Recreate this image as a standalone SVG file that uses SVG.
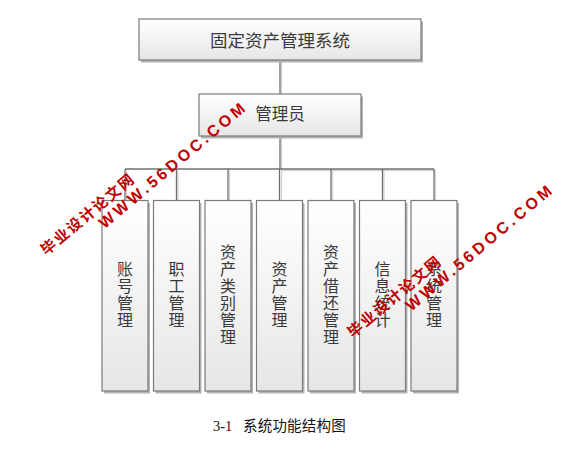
<svg xmlns="http://www.w3.org/2000/svg" width="584" height="454" viewBox="0 0 584 454">
<defs>
<linearGradient id="g" x1="0" y1="0" x2="0" y2="1">
<stop offset="0" stop-color="#ffffff"/>
<stop offset="1" stop-color="#e6e6e6"/>
</linearGradient>
</defs>
<style>
.box{fill:url(#g);stroke:#7a7a7a;stroke-width:1.2}
.sh{fill:#b4b4b4}
.t{font-family:"Noto Sans CJK SC","Noto Sans",sans-serif;fill:#3a3a3a;text-anchor:middle}
.v{font-size:16px;writing-mode:vertical-rl;letter-spacing:1px}
.ln{stroke:#707070;stroke-width:1.3;fill:none}
.lns{stroke:#d4d4d4;stroke-width:1.3;fill:none}
.wm{font-family:"Liberation Sans","Noto Sans CJK SC",sans-serif;font-weight:bold;fill:#c00000}
</style>
<rect width="584" height="454" fill="#ffffff"/>
<g id="connectors">
<path class="lns" d="M281.5 62V94M281.5 137V170.5H435.5M126.5 170.5V201M178 170.5V201M229.5 170.5V201M281.5 170.5V201M332.5 170.5V201M384 170.5V201M435.5 170.5V201"/>
<path class="ln" d="M280 61V94M280 136V169M125 169H434M125 169V200.5M176.5 169V200.5M228 169V200.5M279.5 169V200.5M331 169V200.5M382.5 169V200.5M434 169V200.5"/>
</g>
<g id="n-root">
<rect class="sh" x="141" y="21.5" width="282" height="41"/>
<rect class="box" x="139" y="19" width="282" height="41"/>
<text class="t" x="280" y="47" font-size="17.5">固定资产管理系统</text>
</g>
<g id="n-admin">
<rect class="sh" x="201" y="96.5" width="162" height="42"/>
<rect class="box" x="199" y="94" width="162" height="42"/>
<text class="t" x="280" y="120" font-size="16.5">管理员</text>
</g>
<g id="n1">
<rect class="sh" x="104" y="203" width="46" height="190.5"/>
<rect class="box" x="102" y="200.5" width="46" height="190.5"/>
<text class="t v" x="125" y="295">账号管理</text>
</g>
<g id="n2">
<rect class="sh" x="155.5" y="203" width="46" height="190.5"/>
<rect class="box" x="153.5" y="200.5" width="46" height="190.5"/>
<text class="t v" x="176.5" y="295">职工管理</text>
</g>
<g id="n3">
<rect class="sh" x="207" y="203" width="46" height="190.5"/>
<rect class="box" x="205" y="200.5" width="46" height="190.5"/>
<text class="t v" x="228" y="295">资产类别管理</text>
</g>
<g id="n4">
<rect class="sh" x="258.5" y="203" width="46" height="190.5"/>
<rect class="box" x="256.5" y="200.5" width="46" height="190.5"/>
<text class="t v" x="279.5" y="295">资产管理</text>
</g>
<g id="n5">
<rect class="sh" x="310" y="203" width="46" height="190.5"/>
<rect class="box" x="308" y="200.5" width="46" height="190.5"/>
<text class="t v" x="331" y="295">资产借还管理</text>
</g>
<g id="n6">
<rect class="sh" x="361.5" y="203" width="46" height="190.5"/>
<rect class="box" x="359.5" y="200.5" width="46" height="190.5"/>
<text class="t v" x="382.5" y="295">信息统计</text>
</g>
<g id="n7">
<rect class="sh" x="413" y="203" width="46" height="190.5"/>
<rect class="box" x="411" y="200.5" width="46" height="190.5"/>
<text class="t v" x="434" y="295">系统管理</text>
</g>
<g id="caption">
<text x="213" y="431" font-family="Liberation Serif,serif" font-size="14.5" fill="#111">3-1</text>
<text x="243" y="431" font-family="Noto Sans CJK SC,sans-serif" font-size="14.5" letter-spacing="0.2" fill="#111">系统功能结构图</text>
</g>
<g id="watermark">
<text class="wm" font-size="15" letter-spacing="1.8" transform="translate(46.3 255.9) rotate(-40)">毕业设计论文网</text>
<text class="wm" font-size="16" letter-spacing="3.4" transform="translate(104.6 229.2) rotate(-40)">WWW.56DOC.COM</text>
<text class="wm" font-size="15" letter-spacing="1.8" transform="translate(353 338.4) rotate(-40)">毕业设计论文网</text>
<text class="wm" font-size="16" letter-spacing="3.4" transform="translate(411.3 311.7) rotate(-40)">WWW.56DOC.COM</text>
</g>
</svg>
